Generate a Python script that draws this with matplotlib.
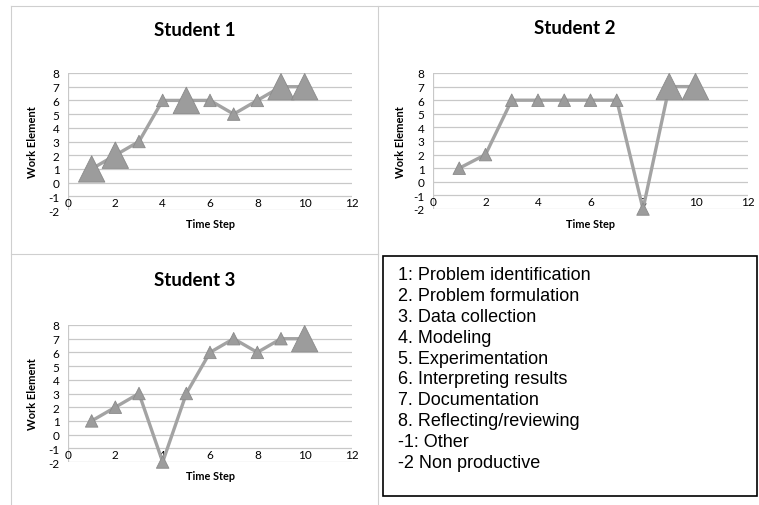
import numpy as np
import matplotlib.pyplot as plt
from matplotlib.lines import Line2D
from matplotlib.patches import Rectangle

plt.rcParams['axes.unicode_minus'] = False

# -------------------------
# Data
# -------------------------
time_steps = [1, 2, 3, 4, 5, 6, 7, 8, 9, 10]

student1 = [1, 2, 3, 6, 6, 6, 5, 6, 7, 7]
student2 = [1, 2, 6, 6, 6, 6, 6, -2, 7, 7]
student3 = [1, 2, 3, -2, 3, 6, 7, 6, 7, 7]

# emphasis per step (1 = normal, 2 = big marker)
emph1 = [2, 2, 1, 1, 2, 1, 1, 1, 2, 2]
emph2 = [1, 1, 1, 1, 1, 1, 1, 1, 2, 2]
emph3 = [1, 1, 1, 1, 1, 1, 1, 1, 1, 2]

legend_lines = [
    "1: Problem identification",
    "2. Problem formulation",
    "3. Data collection",
    "4. Modeling",
    "5. Experimentation",
    "6. Interpreting results",
    "7. Documentation",
    "8. Reflecting/reviewing",
    "-1: Other",
    "-2 Non productive",
]

W, H = 759, 506
fig = plt.figure(figsize=(W / 100, H / 100), dpi=100)
fig.patch.set_facecolor('white')

LINE_C = '#a3a3a3'
MARK_C = '#9c9c9c'
GRID_C = '#c8c8c8'
FONT = 'Lato'


def px_axes(x0, y0, x1, y1):
    # pixel box (top-left origin) -> figure coords
    return fig.add_axes([x0 / W, 1 - y1 / H, (x1 - x0) / W, (y1 - y0) / H])


def panel(box, title, title_xy, values, emph, ylab_x, xlab_y):
    ax = px_axes(*box)
    ax.set_xlim(0, 12)
    ax.set_ylim(-2, 8)
    ax.set_yticks(range(-2, 9))
    ax.set_xticks(range(0, 13, 2))
    for y in range(-2, 9):
        ax.axhline(y, color=GRID_C, lw=0.9, zorder=0)
    for s in ax.spines.values():
        s.set_visible(False)
    ax.axvline(0, color=GRID_C, lw=0.9, zorder=0)
    ax.plot(time_steps, values, color=LINE_C, lw=2.4, zorder=2)
    sizes = [(9 if e == 1 else 19) ** 2 for e in emph]
    ax.scatter(time_steps, values, s=sizes, marker='^', color=MARK_C,
               edgecolors='#8a8a8a', linewidths=0.6, zorder=3, clip_on=False)
    ax.tick_params(length=0, labelsize=8.5)
    ax.tick_params(axis='x', pad=-9.5)
    ax.tick_params(axis='y', pad=6)
    for lab in ax.get_xticklabels() + ax.get_yticklabels():
        lab.set_fontfamily(FONT)
    fig.text(title_xy[0] / W, 1 - title_xy[1] / H, title, ha='center',
             va='center', fontsize=13.5, fontweight='bold', family=FONT)
    cx = (box[0] + box[2]) / 2
    fig.text(ylab_x / W, 1 - (box[1] + box[3]) / 2 / H, 'Work Element',
             rotation=90, ha='center', va='center', fontsize=8,
             fontweight='bold', family=FONT)
    fig.text(cx / W, 1 - xlab_y / H, 'Time Step', ha='center',
             va='center', fontsize=7.8, fontweight='bold', family=FONT)
    return ax


panel((68, 74, 352, 211), 'Student 1', (195, 30), student1, emph1, 33, 225)
panel((433, 74, 748, 210), 'Student 2', (575, 29), student2, emph2, 400, 225)
panel((68, 326, 352, 463), 'Student 3', (195, 280), student3, emph3, 33, 477)

# panel frame lines
frame_c = '#cfcfcf'
for (x0, y0, x1, y1) in [(11, 7, 759, 7), (11, 7, 11, 506), (378, 7, 378, 255),
                         (11, 255, 378, 255), (378, 255, 378, 506)]:
    fig.add_artist(Line2D([x0 / W, x1 / W], [1 - y0 / H, 1 - y1 / H],
                          color=frame_c, lw=0.8))

# legend box
fig.add_artist(Rectangle((383 / W, 1 - 497 / H), (757 - 383) / W, (497 - 257) / H,
                         transform=fig.transFigure, fill=False,
                         edgecolor='black', lw=1.2))
for i, t in enumerate(legend_lines):
    fig.text(398 / W, 1 - (276 + i * 20.8) / H, t, ha='left', va='center',
             fontsize=13, family='Liberation Sans')

fig.savefig('out.png', dpi=100)
